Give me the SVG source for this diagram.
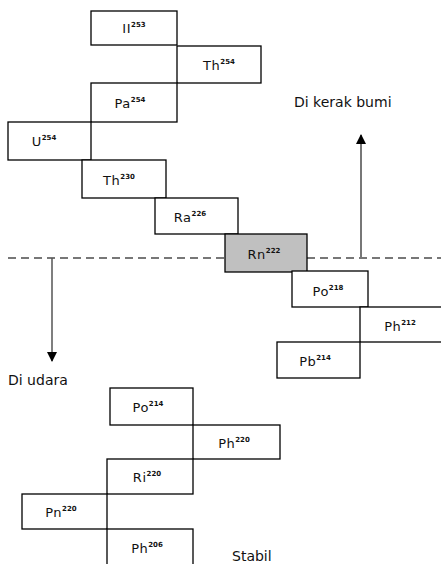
<svg xmlns="http://www.w3.org/2000/svg" width="441" height="564" viewBox="0 0 441 564">
<style>
.b{fill:#fff;stroke:#000;stroke-width:1.3}
.g{fill:#c0c0c0;stroke:#000;stroke-width:1.3}
.t{font-family:"DejaVu Sans",sans-serif;font-size:13px;fill:#111;text-anchor:middle;letter-spacing:0.5px}
.s{font-size:7px;font-weight:bold;letter-spacing:0}
.l{font-family:"DejaVu Sans",sans-serif;font-size:14px;fill:#111}
</style>
<defs>
<marker id="ah" markerWidth="10" markerHeight="10" refX="9" refY="5" orient="auto" markerUnits="userSpaceOnUse" viewBox="0 0 10 10">
<path d="M0,0 L10,5 L0,10 Z" fill="#000"/>
</marker>
</defs>
<g id="connectors">
<line x1="8" y1="258" x2="441" y2="258" stroke="#777" stroke-width="2" stroke-dasharray="8,5"/>
<line x1="361" y1="258" x2="361" y2="135" stroke="#777" stroke-width="2" marker-end="url(#ah)"/>
<line x1="52" y1="258" x2="52" y2="361" stroke="#555" stroke-width="1.5" marker-end="url(#ah)"/>
</g>
<g id="n1"><rect class="b" x="91" y="11" width="86" height="34"/><text class="t" x="134" y="33">II<tspan class="s" dy="-6">253</tspan></text></g>
<g id="n2"><rect class="b" x="177" y="46" width="84" height="37"/><text class="t" x="219" y="70">Th<tspan class="s" dy="-6">254</tspan></text></g>
<g id="n3"><rect class="b" x="91" y="83" width="86" height="39"/><text class="t" x="130" y="108">Pa<tspan class="s" dy="-6">254</tspan></text></g>
<g id="n4"><rect class="b" x="8" y="122" width="83" height="38"/><text class="t" x="44" y="146">U<tspan class="s" dy="-6">254</tspan></text></g>
<g id="n5"><rect class="b" x="82" y="160" width="84" height="38"/><text class="t" x="119" y="185">Th<tspan class="s" dy="-6">230</tspan></text></g>
<g id="n6"><rect class="b" x="155" y="198" width="83" height="36"/><text class="t" x="190" y="222">Ra<tspan class="s" dy="-6">226</tspan></text></g>
<g id="n7"><rect class="g" x="225" y="234" width="82" height="38"/><text class="t" x="264" y="259">Rn<tspan class="s" dy="-6">222</tspan></text></g>
<g id="n8"><rect class="b" x="292" y="271" width="76" height="36"/><text class="t" x="328" y="296">Po<tspan class="s" dy="-6">218</tspan></text></g>
<g id="n9"><rect class="b" x="360" y="307" width="82" height="35"/><text class="t" x="400" y="331">Ph<tspan class="s" dy="-6">212</tspan></text></g>
<g id="n10"><rect class="b" x="277" y="342" width="83" height="36"/><text class="t" x="315" y="366">Pb<tspan class="s" dy="-6">214</tspan></text></g>
<g id="n11"><rect class="b" x="110" y="388" width="83" height="37"/><text class="t" x="148" y="412">Po<tspan class="s" dy="-6">214</tspan></text></g>
<g id="n12"><rect class="b" x="193" y="425" width="87" height="34"/><text class="t" x="234" y="448">Ph<tspan class="s" dy="-6">220</tspan></text></g>
<g id="n13"><rect class="b" x="107" y="459" width="86" height="35"/><text class="t" x="147" y="482">Ri<tspan class="s" dy="-6">220</tspan></text></g>
<g id="n14"><rect class="b" x="22" y="494" width="85" height="35"/><text class="t" x="61" y="517">Pn<tspan class="s" dy="-6">220</tspan></text></g>
<g id="n15"><rect class="b" x="107" y="529" width="86" height="40"/><text class="t" x="147" y="553">Ph<tspan class="s" dy="-6">206</tspan></text></g>
<text class="l" x="294" y="107">Di kerak bumi</text>
<text class="l" x="8" y="385">Di udara</text>
<text class="l" x="232" y="561">Stabil</text>
</svg>
